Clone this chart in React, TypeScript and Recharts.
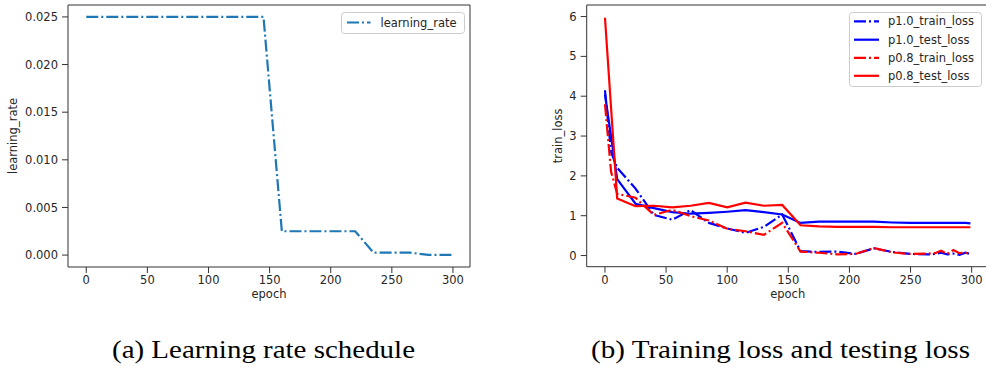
import React from 'react';
import { LineChart, Line, XAxis, YAxis, Legend, ReferenceLine } from 'recharts';

// Learning rate schedule
const lrEpochs = [0, 10, 25, 40, 55, 70, 85, 100, 115, 130, 145, 160, 175, 190, 205, 220, 235, 250, 265, 280, 295, 299];
const lrValues = [
  0.025, 0.025, 0.025, 0.025, 0.025, 0.025, 0.025, 0.025, 0.025, 0.025, 0.025,
  0.0025, 0.0025, 0.0025, 0.0025, 0.0025,
  0.00025, 0.00025, 0.00025,
  0.000025, 0.000025, 0.000025,
];

// Test losses
const testEpochs = [0, 10, 25, 40, 55, 70, 85, 100, 115, 130, 145, 160, 175, 190, 205, 220, 235, 250, 265, 280, 295, 299];
const p10TestLoss = [4.05, 1.92, 1.3, 1.19, 1.09, 1.05, 1.07, 1.1, 1.14, 1.09, 1.03, 0.82, 0.85, 0.85, 0.85, 0.85, 0.83, 0.82, 0.82, 0.82, 0.82, 0.81];
const p08TestLoss = [5.97, 1.43, 1.24, 1.25, 1.21, 1.25, 1.32, 1.21, 1.33, 1.25, 1.27, 0.76, 0.73, 0.72, 0.72, 0.72, 0.71, 0.71, 0.71, 0.71, 0.71, 0.71];

// Train losses
const trainEpochs = [0, 5, 10, 25, 40, 55, 70, 85, 100, 115, 130, 145, 160, 175, 190, 205, 220, 235, 250, 265, 270, 275, 280, 285, 290, 295, 299];
const p10TrainLoss = [4.15, 2.6, 2.2, 1.68, 1.02, 0.9, 1.14, 0.82, 0.68, 0.57, 0.72, 1.03, 0.11, 0.09, 0.1, 0.04, 0.18, 0.09, 0.04, 0.03, 0.04, 0.07, 0.03, 0.05, 0.02, 0.07, 0.04];
const p08TrainLoss = [3.8, 2.1, 1.55, 1.45, 1.02, 1.15, 0.99, 0.88, 0.67, 0.61, 0.52, 0.82, 0.1, 0.07, 0.03, 0.04, 0.19, 0.08, 0.04, 0.05, 0.06, 0.12, 0.04, 0.14, 0.06, 0.07, 0.04];

const epochTicks = [0, 50, 100, 150, 200, 250, 300];
const lrTicks = [0, 0.005, 0.01, 0.015, 0.02, 0.025];
const lossTicks = [0, 1, 2, 3, 4, 5, 6];

const captionA = '(a) Learning rate schedule';
const captionB = '(b) Training loss and testing loss';

const zip = (xs: number[], ys: number[]) => xs.map((e, i) => ({ e, v: ys[i] }));

const FONT = "'DejaVu Sans', sans-serif";
const SERIF = "'Liberation Serif', 'Times New Roman', serif";
const TEXT = '#262626';
const FRAME = '#333333';
const DASHDOT = '12 3 2 3';
const EPOCH_DOMAIN: [number, number] = [-14.95, 313.95];
const LR_DOMAIN: [number, number] = [-0.00125, 0.02625];
const LOSS_DOMAIN: [number, number] = [-0.28, 6.29];

const tickStyle = { fontSize: 11.5, fontFamily: FONT, fill: TEXT };

type Entry = { name: string; color: string; dash?: string };

function makeLegend(entries: Entry[], box: { w: number; h: number }, rowY: number[], x0: number, x1: number, tx: number) {
  return () => (
    <svg width={box.w} height={box.h} style={{ display: 'block' }}>
      <rect x={0.5} y={0.5} width={box.w - 1} height={box.h - 1} rx={3} fill="#fff" fillOpacity={0.8} stroke="#cccccc" />
      {entries.map((en, i) => (
        <g key={en.name}>
          <line x1={x0} x2={x1} y1={rowY[i]} y2={rowY[i]} stroke={en.color} strokeWidth={2.2} strokeDasharray={en.dash} />
          <text x={tx} y={rowY[i]} dy="0.35em" fontSize={11.5} fontFamily={FONT} fill={TEXT}>
            {en.name}
          </text>
        </g>
      ))}
    </svg>
  );
}

const lrLegend = makeLegend([{ name: 'learning_rate', color: '#1f77b4', dash: DASHDOT }], { w: 124, h: 22 }, [10.5], 6, 29.5, 39.5);
const lossLegend = makeLegend(
  [
    { name: 'p1.0_train_loss', color: '#0000ff', dash: DASHDOT },
    { name: 'p1.0_test_loss', color: '#0000ff' },
    { name: 'p0.8_train_loss', color: '#ff0000', dash: DASHDOT },
    { name: 'p0.8_test_loss', color: '#ff0000' },
  ],
  { w: 133, h: 75 },
  [9.4, 27.7, 45.8, 63.8],
  5,
  30,
  39
);

const epochAxis = (
  <XAxis
    dataKey="e"
    type="number"
    domain={EPOCH_DOMAIN}
    ticks={epochTicks}
    allowDataOverflow
    height={35}
    tick={tickStyle}
    tickMargin={3}
    stroke={FRAME}
    tickLine={{ stroke: FRAME }}
    label={{ value: 'epoch', position: 'insideBottom', offset: 4, fontSize: 11.5, fontFamily: FONT, fill: TEXT }}
  />
);

export default function App() {
  const lrData = zip(lrEpochs, lrValues);
  return (
    <div style={{ position: 'fixed', left: 0, top: 0, width: 986, height: 367, overflow: 'hidden', background: '#fff' }}>
      <div style={{ position: 'absolute', left: 0, top: 0 }}>
        <LineChart width={490} height={310} data={lrData} margin={{ top: 5, right: 20, bottom: 8, left: 8 }}>
          {epochAxis}
          <YAxis
            type="number"
            domain={LR_DOMAIN}
            ticks={lrTicks}
            allowDataOverflow
            width={60}
            tick={tickStyle}
            tickMargin={4}
            tickFormatter={(v: number) => v.toFixed(3)}
            stroke={FRAME}
            tickLine={{ stroke: FRAME }}
            label={{ value: 'learning_rate', angle: -90, position: 'insideLeft', offset: 5, fontSize: 11.5, fontFamily: FONT, fill: TEXT, style: { textAnchor: 'middle' } }}
          />
          {/* top and right spines */}
          <ReferenceLine y={LR_DOMAIN[1]} stroke={FRAME} strokeWidth={1} />
          <ReferenceLine x={EPOCH_DOMAIN[1]} stroke={FRAME} strokeWidth={1} />
          <Legend
            content={lrLegend}
            layout="vertical"
            align="center"
            verticalAlign="middle"
            wrapperStyle={{ top: 11.5, left: 340.5, right: 'auto', bottom: 'auto', width: 124, height: 22 }}
          />
          <Line
            dataKey="v"
            name="learning_rate"
            stroke="#1f77b4"
            strokeWidth={2.2}
            strokeDasharray={DASHDOT}
            dot={false}
            activeDot={false}
            isAnimationActive={false}
          />
        </LineChart>
      </div>
      <div style={{ position: 'absolute', left: 540, top: 0 }}>
        <LineChart width={460} height={310} margin={{ top: 5, right: 11.3, bottom: 8.3, left: 6 }}>
          {epochAxis}
          <YAxis
            type="number"
            domain={LOSS_DOMAIN}
            ticks={lossTicks}
            allowDataOverflow
            width={40.7}
            tick={tickStyle}
            tickMargin={4}
            stroke={FRAME}
            tickLine={{ stroke: FRAME }}
            label={{ value: 'train_loss', angle: -90, position: 'insideLeft', offset: 12, fontSize: 11.5, fontFamily: FONT, fill: TEXT, style: { textAnchor: 'middle' } }}
          />
          <ReferenceLine y={LOSS_DOMAIN[1]} stroke={FRAME} strokeWidth={1} />
          <ReferenceLine x={EPOCH_DOMAIN[1]} stroke={FRAME} strokeWidth={1} />
          <Legend
            content={lossLegend}
            layout="vertical"
            align="center"
            verticalAlign="middle"
            wrapperStyle={{ top: 12.3, left: 309.3, right: 'auto', bottom: 'auto', width: 133, height: 75 }}
          />
          <Line data={zip(trainEpochs, p10TrainLoss)} dataKey="v" name="p1.0_train_loss" stroke="#0000ff" strokeWidth={2.2} strokeDasharray={DASHDOT} dot={false} activeDot={false} isAnimationActive={false} />
          <Line data={zip(testEpochs, p10TestLoss)} dataKey="v" name="p1.0_test_loss" stroke="#0000ff" strokeWidth={2.2} dot={false} activeDot={false} isAnimationActive={false} />
          <Line data={zip(trainEpochs, p08TrainLoss)} dataKey="v" name="p0.8_train_loss" stroke="#ff0000" strokeWidth={2.2} strokeDasharray={DASHDOT} dot={false} activeDot={false} isAnimationActive={false} />
          <Line data={zip(testEpochs, p08TestLoss)} dataKey="v" name="p0.8_test_loss" stroke="#ff0000" strokeWidth={2.2} dot={false} activeDot={false} isAnimationActive={false} />
        </LineChart>
      </div>
      <svg width={986} height={367} style={{ position: 'absolute', left: 0, top: 0, pointerEvents: 'none' }}>
        <text x={263.5} y={357.5} textAnchor="middle" fontFamily={SERIF} fontSize={25} fill="#000" textLength={303} lengthAdjust="spacingAndGlyphs">
          {captionA}
        </text>
        <text x={780.5} y={357.5} textAnchor="middle" fontFamily={SERIF} fontSize={25} fill="#000" textLength={379} lengthAdjust="spacingAndGlyphs">
          {captionB}
        </text>
      </svg>
    </div>
  );
}
